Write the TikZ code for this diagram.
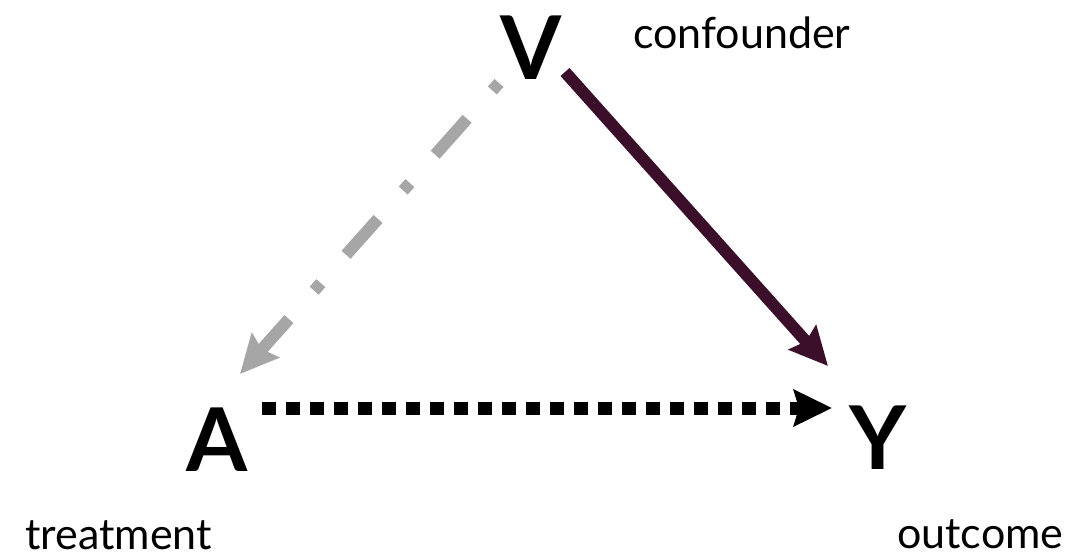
\documentclass[tikz,border=0pt]{standalone}
\usepackage{fontspec}
\setmainfont{Lato}
\usetikzlibrary{arrows.meta}
\definecolor{darkplum}{HTML}{3B0F2A}
\definecolor{lightgray}{HTML}{A6A6A6}
\tikzset{
  var/.style={font=\fontsize{88}{90}\selectfont\bfseries, inner sep=0pt},
  lbl/.style={font=\fontsize{43}{46}\selectfont, inner sep=0pt, anchor=base west},
  tip/.style={-{Stealth[length=38pt,width=36pt,inset=5pt]}},
}
\begin{document}
\begin{tikzpicture}[x=1pt,y=-1pt]
\useasboundingbox (0,0) rectangle (1073,557);
\node[var] (V) at (531,48) {V};
\node[var] (A) at (217,440) {A};
\node[var] (Y) at (878,438) {Y};
\node[lbl] (c) at (633,48) {confounder};
\node[lbl] (t) at (25,549) {treatment};
\node[lbl] (o) at (897,548) {outcome};
\coordinate (vs1) at (499,83);
\coordinate (ae) at (240,374);
\coordinate (vs2) at (565,72);
\coordinate (ye1) at (828,366);
\coordinate (as) at (262,408);
\coordinate (ye2) at (832,408);
\draw[tip, lightgray, line width=12pt, dash pattern=on 10pt off 38pt on 48pt off 38pt] (vs1) -- (ae);
\draw[tip, darkplum, line width=12pt] (vs2) -- (ye1);
\draw[tip, black, line width=13pt, dash pattern=on 14pt off 10pt] (as) -- (ye2);
\end{tikzpicture}
\end{document}
